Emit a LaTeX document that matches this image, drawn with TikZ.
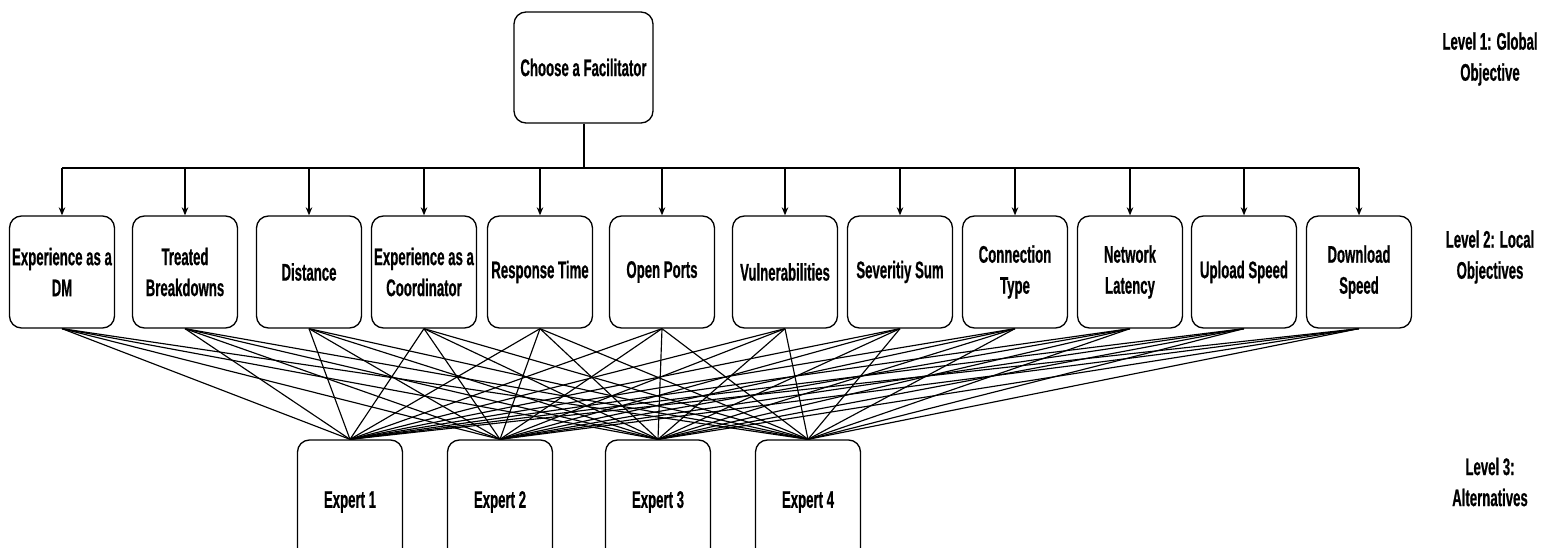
\documentclass[tikz,border=0pt]{standalone}
\usepackage{fontspec}
\setmainfont{Liberation Sans}[FakeStretch=0.55, FakeBold=0.6]
\usetikzlibrary{arrows.meta}
\begin{document}
\begin{tikzpicture}[x=1pt,y=-1pt,
  txt/.style={font=\fontsize{24}{31}\selectfont\bfseries, align=center, inner sep=0pt},
  rbox/.style={txt, draw, line width=1.3pt, rounded corners=12pt},
  goalbox/.style={rbox, minimum width=139pt, minimum height=111pt},
  critbox/.style={rbox, minimum width=105pt, minimum height=112pt},
  altbox/.style={rbox, minimum width=105pt, minimum height=124pt},
  trunk/.style={line width=2pt},
  drop/.style={line width=1.3pt, -{Stealth[length=8pt,width=6.5pt,inset=2.5pt]}},
  link/.style={line width=1.15pt}]
\useasboundingbox (0,0) rectangle (1553,548);

% level 1
\node[goalbox] (goal) at (583.5,67.5) {Choose a Facilitator};

% level 2
\foreach \n/\x/\t in {c1/62/{Experience as a\\DM}, c2/185/{Treated\\Breakdowns},
  c3/309/{Distance}, c4/424/{Experience as a\\Coordinator}, c5/540/{Response Time},
  c6/662/{Open Ports}, c7/785/{Vulnerabilities}, c8/900/{Severitiy Sum},
  c9/1015/{Connection\\Type}, c10/1130/{Network\\Latency}, c11/1244/{Upload Speed},
  c12/1359/{Download\\Speed}}
  \node[critbox] (\n) at (\x,272) {\t};

% level 3
\foreach \n/\x/\t in {e1/350/{Expert 1}, e2/500/{Expert 2}, e3/658/{Expert 3}, e4/808/{Expert 4}}
  \node[altbox] (\n) at (\x,502) {\t};

% level captions
\node[txt] (lv1) at (1490,59) {Level 1: Global\\Objective};
\node[txt] (lv2) at (1490,257) {Level 2: Local\\Objectives};
\node[txt] (lv3) at (1490,482) {Level 3:\\Alternatives};

% distribution bus from the goal to every criterion
\coordinate (bus) at (goal.south |- 0,168);
\draw[trunk] (goal.south) -- (bus);
\draw[trunk] (c1.north |- bus) -- (c12.north |- bus);
\foreach \n in {c1,c2,c3,c4,c5,c6,c7,c8,c9,c10,c11,c12}
  \draw[drop] (\n.north |- bus) -- (\n.north);

% every criterion links to every alternative
\foreach \n in {c1,c2,c3,c4,c5,c6,c7,c8,c9,c10,c11,c12}
  \foreach \e in {e1,e2,e3,e4}
    \draw[link] (\n.south) -- (\e.north);
\end{tikzpicture}
\end{document}
